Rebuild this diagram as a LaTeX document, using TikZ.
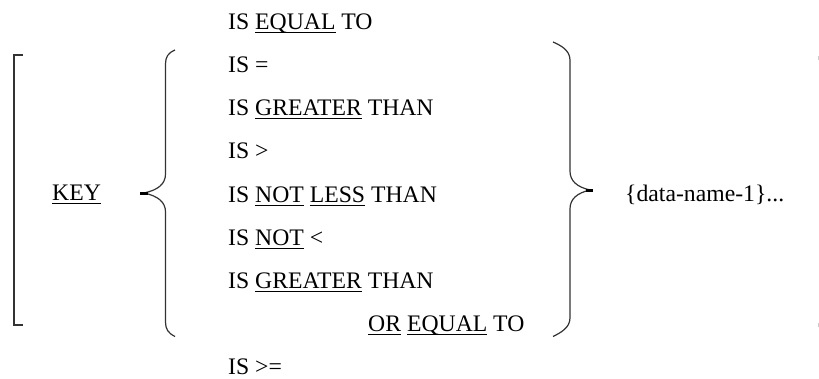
\documentclass[tikz,border=0pt]{standalone}
\usepackage{fontspec}
\setmainfont{Liberation Serif}
\newcommand\ulw[1]{\setbox0\hbox{#1}\rlap{\rule[-3.6pt]{\wd0}{1pt}}\box0\relax}
\tikzset{
  txt/.style={anchor=base west,inner sep=0pt,font=\fontsize{23.7}{28}\selectfont},
  brk/.style={draw=black!80,line width=2pt},
  brc/.style={draw=black!80,line width=1.2pt},
  stub/.style={draw=black,line width=3pt},
  faint/.style={draw=black!20,line width=1pt}
}
\begin{document}
\begin{tikzpicture}[x=1pt,y=-1pt]
\useasboundingbox (0,0) rectangle (819,378);
% left bracket
\draw[brk] (23,55) -- (14,55) -- (14,325) -- (23,325);
% left brace
\draw[brc] (175,50) .. controls (168,53) and (165.5,57) .. (165.5,64) -- (165.5,174)
  .. controls (165.5,184) and (158,190) .. (144,193)
  .. controls (158,196) and (165.5,202) .. (165.5,212) -- (165.5,322)
  .. controls (165.5,329) and (168,333) .. (175,336.5);
\draw[stub] (140,193) -- (148,193);
% right brace
\draw[brc] (553,42) .. controls (560,45) and (570,50) .. (570,60) -- (570,171)
  .. controls (570,181) and (577,187) .. (590,190)
  .. controls (577,193) and (570,199) .. (570,209) -- (570,318)
  .. controls (570,328) and (560,333) .. (553,336.5);
\draw[stub] (586,190) -- (593,190);
% faint marks at right edge
\draw[faint] (818.3,56) -- (818.3,59.5);
\draw[faint] (818.3,323) -- (818.3,326.5);
% texts
\node[txt] (key) at (52,200) {\ulw{KEY}};
\node[txt] (l0) at (228,29.3) {IS \ulw{EQUAL} TO};
\node[txt] (l1) at (228,72.5) {IS =};
\node[txt] (l2) at (228,115.7) {IS \ulw{GREATER} THAN};
\node[txt] (l3) at (228,158.9) {IS >};
\node[txt] (l4) at (228,202.1) {IS \ulw{NOT} \ulw{LESS} THAN};
\node[txt] (l5) at (228,245.3) {IS \ulw{NOT} <};
\node[txt] (l6) at (228,288.5) {IS \ulw{GREATER} THAN};
\node[txt] (l7) at (368,331.7) {\ulw{OR} \ulw{EQUAL} TO};
\node[txt] (l8) at (228,374) {IS >=};
\node[txt] (dn) at (625,201) {\{data-name-1\}...};
\end{tikzpicture}
\end{document}
